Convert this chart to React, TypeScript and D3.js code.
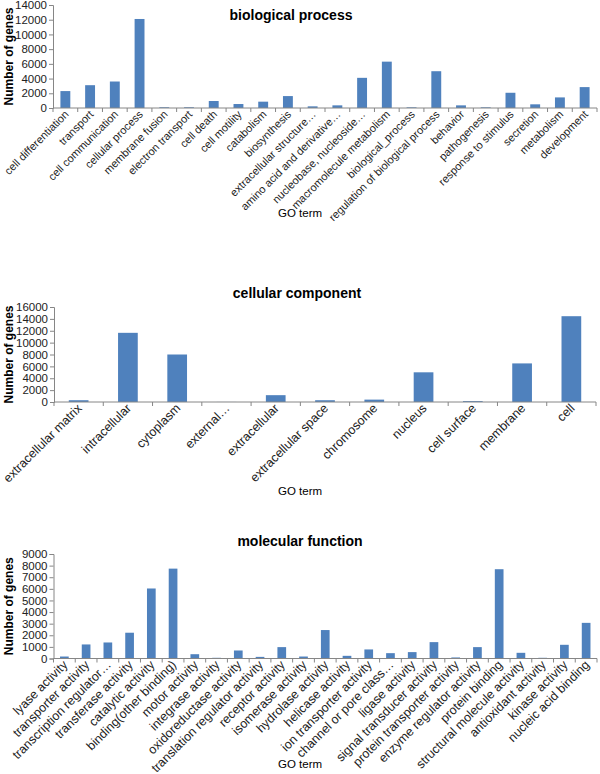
import * as d3 from 'd3'
import {useRef, useEffect} from 'react'

// biological process
const bpTerms = ['cell differentiation', 'transport', 'cell communication', 'cellular process', 'membrane fusion',
  'electron transport', 'cell death', 'cell motility', 'catabolism', 'biosynthesis', 'extracellular structure…',
  'amino acid and derivative…', 'nucleobase, nucleoside…', 'macromolecule metabolism', 'biological_process',
  'regulation of biological process', 'behavior', 'pathogenesis', 'response to stimulus', 'secretion',
  'metabolism', 'development']
const bpGenes = [2300, 3100, 3600, 12100, 100, 100, 950, 540, 860, 1620, 225, 360, 4100, 6300, 90, 5000, 360, 90,
  2070, 500, 1440, 2840]

// cellular component
const ccTerms = ['extracellular matrix', 'intracellular', 'cytoplasm', 'external…', 'extracellular',
  'extracellular space', 'chromosome', 'nucleus', 'cell surface', 'membrane', 'cell']
const ccGenes = [300, 11650, 8000, 10, 1150, 300, 400, 5000, 150, 6500, 14450]

// molecular function
const mfTerms = ['lyase activity', 'transporter activity', 'transcription regulator…', 'transferase activity',
  'catalytic activity', 'binding(other binding)', 'motor activity', 'integrase activity', 'oxidoreductase activity',
  'translation regulator activity', 'receptor activity', 'isomerase activity', 'hydrolase activity',
  'helicase activity', 'ion transporter activity', 'channel or pore class…', 'ligase activity',
  'signal transducer activity', 'protein transporter activity', 'enzyme regulator activity', 'protein binding',
  'structural molecule activity', 'antioxidant activity', 'kinase activity', 'nucleic acid binding']
const mfGenes = [170, 1210, 1380, 2220, 6030, 7740, 370, 60, 690, 140, 980, 170, 2450, 230, 780, 460, 550, 1410,
  90, 980, 7690, 490, 60, 1180, 3070]

interface PanelInterface {
  title: string
  terms: string[]
  genes: number[]
  yMax: number
  yStep: number
  left: number
  right: number
  top: number
  bottom: number
  titleX: number
  titleY: number
  goY: number
  labelSize: number
}

const panels: PanelInterface[] = [
  {title: 'biological process', terms: bpTerms, genes: bpGenes, yMax: 14000, yStep: 2000,
    left: 53, right: 597, top: 5, bottom: 108, titleX: 291, titleY: 20, goY: 217, labelSize: 11},
  {title: 'cellular component', terms: ccTerms, genes: ccGenes, yMax: 16000, yStep: 2000,
    left: 54, right: 596, top: 307, bottom: 402, titleX: 297, titleY: 298, goY: 495, labelSize: 12.5},
  {title: 'molecular function', terms: mfTerms, genes: mfGenes, yMax: 9000, yStep: 1000,
    left: 53.5, right: 597, top: 554, bottom: 658.5, titleX: 300, titleY: 546, goY: 768, labelSize: 12.5},
]

const font = '"Liberation Sans", Arial, sans-serif'
const axisColor = '#868686'

export default function App() {
  const svgRef = useRef(null)

  useEffect(() => {
    const SVG = d3.select(svgRef.current)
    SVG.selectAll('*').remove()

    panels.forEach(p => {
      const g = SVG.append('g')
      const xScale = d3.scaleBand<string>()
        .domain(p.terms)
        .range([p.left, p.right])
        .paddingInner(0.6)
        .paddingOuter(0.3)
      const band = d3.scaleBand<string>().domain(p.terms).range([p.left, p.right])
      const yScale = d3.scaleLinear()
        .domain([0, p.yMax])
        .range([p.bottom, p.top])

      // bars
      g.selectAll('rect')
        .data(p.genes)
        .enter()
        .append('rect')
        .attr('x', (d, i) => xScale(p.terms[i])!)
        .attr('y', d => yScale(d))
        .attr('width', xScale.bandwidth())
        .attr('height', d => p.bottom - yScale(d))
        .attr('fill', '#4f81bd')

      // y axis
      const yAxis = d3.axisLeft(yScale)
        .tickValues(d3.range(0, p.yMax + 1, p.yStep))
        .tickSize(4)
        .tickFormat(d3.format('d'))
      const ya = g.append('g')
        .attr('transform', `translate(${p.left},0)`)
        .call(yAxis)
      ya.select('.domain').attr('stroke', axisColor)
      ya.selectAll('line').attr('stroke', axisColor)
      ya.selectAll('text')
        .attr('font-family', font)
        .attr('font-size', 11.5)
        .attr('fill', '#222')
        .attr('x', -6)

      // x axis line and tick marks between categories
      g.append('line')
        .attr('x1', p.left).attr('x2', p.right)
        .attr('y1', p.bottom).attr('y2', p.bottom)
        .attr('stroke', axisColor)
      const edges = p.terms.map(t => band(t)!).concat([p.right])
      g.selectAll('line.xt')
        .data(edges)
        .enter()
        .append('line')
        .attr('class', 'xt')
        .attr('x1', d => d).attr('x2', d => d)
        .attr('y1', p.bottom).attr('y2', p.bottom + 4)
        .attr('stroke', axisColor)

      // rotated category labels
      g.selectAll('text.cat')
        .data(p.terms)
        .enter()
        .append('text')
        .attr('class', 'cat')
        .attr('transform', d => `translate(${band(d)! + band.bandwidth() / 2 + 4},${p.bottom + 7}) rotate(-45)`)
        .attr('text-anchor', 'end')
        .attr('font-family', font)
        .attr('font-size', p.labelSize)
        .attr('fill', '#222')
        .text(d => d)

      // titles
      g.append('text')
        .attr('x', p.titleX).attr('y', p.titleY)
        .attr('text-anchor', 'middle')
        .attr('font-family', font)
        .attr('font-weight', 'bold')
        .attr('font-size', 14)
        .text(p.title)
      g.append('text')
        .attr('transform', `translate(13,${(p.top + p.bottom) / 2}) rotate(-90)`)
        .attr('text-anchor', 'middle')
        .attr('font-family', font)
        .attr('font-weight', 'bold')
        .attr('font-size', 12)
        .text('Number of genes')
      g.append('text')
        .attr('x', 300).attr('y', p.goY)
        .attr('text-anchor', 'middle')
        .attr('font-family', font)
        .attr('font-size', 11.5)
        .text('GO term')
    })
  }, [])

  return <svg ref={svgRef} width={600} height={774} style={{position: 'absolute', left: 0, top: 0, background: '#fff'}}></svg>
}
